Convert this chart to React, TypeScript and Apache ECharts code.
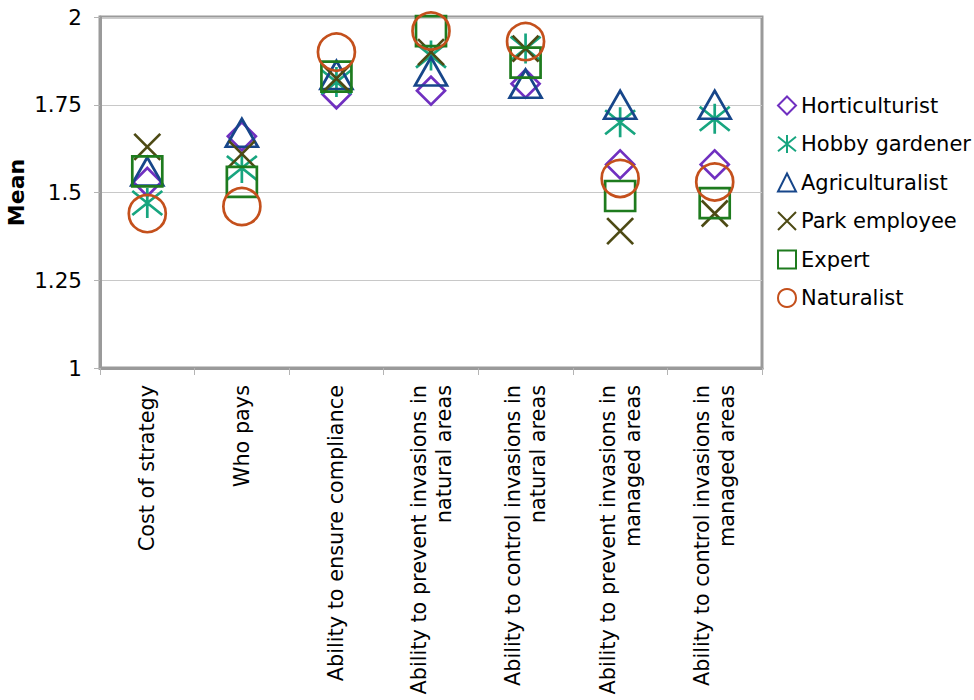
import React, { useEffect, useRef } from "react";
import * as echarts from "echarts";

// Criteria rated by each stakeholder group
const categories: string[] = [
  "Cost of strategy",
  "Who pays",
  "Ability to ensure compliance",
  "Ability to prevent invasions in\nnatural areas",
  "Ability to control invasions in\nnatural areas",
  "Ability to prevent invasions in\nmanaged areas",
  "Ability to control invasions in\nmanaged areas",
];

// Mean ratings per group, one value per criterion
const horticulturist: number[] = [1.53, 1.66, 1.78, 1.79, 1.81, 1.58, 1.58];
const hobbyGardener: number[] = [1.47, 1.57, 1.815, 1.89, 1.91, 1.7, 1.71];
const agriculturalist: number[] = [1.56, 1.67, 1.835, 1.845, 1.81, 1.75, 1.75];
const parkEmployee: number[] = [1.63, 1.61, 1.825, 1.9, 1.91, 1.39, 1.44];
const expert: number[] = [1.56, 1.53, 1.83, 1.96, 1.87, 1.49, 1.47];
const naturalist: number[] = [1.44, 1.46, 1.9, 1.96, 1.93, 1.54, 1.53];

const yTicks = { min: 1, max: 2, interval: 0.25 };

const CROSS = "path://M0 0L10 10M10 0L0 10";
const ASTERISK = "path://M0 1L10 9M10 1L0 9M5 0L5 10";

const FONT = "DejaVu Sans";

type SeriesDef = {
  name: string;
  data: number[];
  color: string;
  symbol: string;
  size: number | number[];
};

const seriesDefs: SeriesDef[] = [
  { name: "Horticulturist", data: horticulturist, color: "#7030C0", symbol: "diamond", size: 28 },
  { name: "Hobby gardener", data: hobbyGardener, color: "#17A57F", symbol: ASTERISK, size: 30 },
  { name: "Agriculturalist", data: agriculturalist, color: "#17468A", symbol: "triangle", size: [32, 28] },
  { name: "Park employee", data: parkEmployee, color: "#4D4A14", symbol: CROSS, size: 26 },
  { name: "Expert", data: expert, color: "#1E7B1E", symbol: "rect", size: 30 },
  { name: "Naturalist", data: naturalist, color: "#C4501C", symbol: "circle", size: 37 },
];

export default function App() {
  const ref = useRef<HTMLDivElement>(null);

  useEffect(() => {
    if (!ref.current) return;
    const chart = echarts.init(ref.current, undefined, { renderer: "svg" });
    chart.setOption({
      animation: false,
      backgroundColor: "#ffffff",
      textStyle: { fontFamily: FONT, color: "#000" },
      grid: {
        left: 100,
        right: 212,
        top: 17,
        bottom: 332,
        containLabel: false,
        outerBoundsMode: "none",
        show: true,
        borderColor: "#9a9a9a",
        borderWidth: 3,
        backgroundColor: "transparent",
      },
      legend: {
        orient: "vertical",
        left: 772,
        top: 90,
        itemWidth: 18,
        itemHeight: 18,
        itemGap: 17.5,
        textStyle: { fontFamily: FONT, fontSize: 21, color: "#000" },
        data: seriesDefs.map((s) => s.name),
      },
      xAxis: {
        type: "category",
        data: categories,
        boundaryGap: true,
        axisLine: { show: true, lineStyle: { color: "#9a9a9a", width: 3 } },
        axisTick: { show: true, length: 7, lineStyle: { color: "#b4b4b4", width: 1 } },
        axisLabel: {
          rotate: 90,
          interval: 0,
          margin: 17,
          fontFamily: FONT,
          fontSize: 20.8,
          color: "#000",
          lineHeight: 25,
        },
        splitLine: { show: false },
      },
      yAxis: {
        type: "value",
        min: yTicks.min,
        max: yTicks.max,
        interval: yTicks.interval,
        name: "Mean",
        nameLocation: "middle",
        nameGap: 73,
        nameRotate: 90,
        nameMoveOverlap: false,
        nameTextStyle: { fontFamily: FONT, fontSize: 22, fontWeight: "bold", color: "#000" },
        axisLine: { show: true, lineStyle: { color: "#9a9a9a", width: 3 } },
        axisTick: { show: true, length: 6, lineStyle: { color: "#b4b4b4", width: 1 } },
        axisLabel: { margin: 18, fontFamily: FONT, fontSize: 21.5, color: "#000" },
        splitLine: { show: true, lineStyle: { color: "#c8c8c8", width: 1 } },
      },
      series: seriesDefs.map((s) => ({
        type: "scatter",
        name: s.name,
        data: s.data,
        symbol: s.symbol,
        symbolSize: s.size,
        itemStyle: {
          color: "transparent",
          borderColor: s.color,
          borderWidth: 2.7,
          opacity: 1,
        },
        emphasis: { disabled: true },
      })),
    });
    return () => chart.dispose();
  }, []);

  return (
    <div
      ref={ref}
      style={{ position: "fixed", left: 0, top: 0, width: 974, height: 700, background: "#fff" }}
    />
  );
}
